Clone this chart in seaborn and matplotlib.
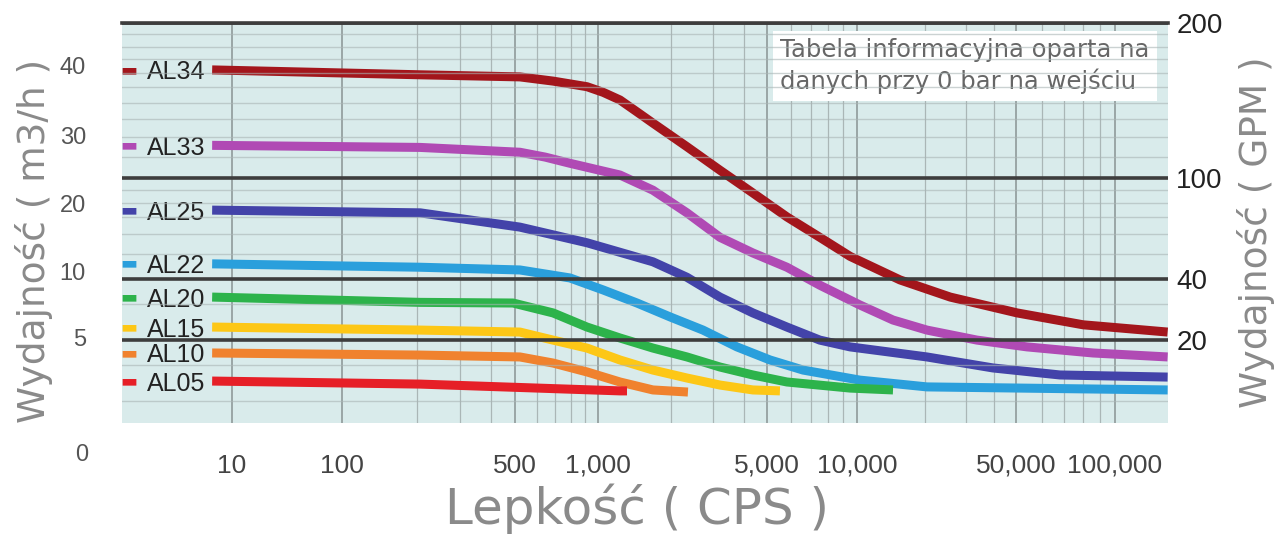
import numpy as np
import pandas as pd
import matplotlib
matplotlib.use('Agg')
import matplotlib.pyplot as plt
import seaborn as sns
from matplotlib.ticker import FixedLocator, FixedFormatter, NullFormatter

# ---------------- data ----------------
models = ['AL34', 'AL33', 'AL25', 'AL22', 'AL20', 'AL15', 'AL10', 'AL05']
colors = ['#a3161c', '#b04ab4', '#4343a9', '#2a9fdc', '#2db34b', '#fdc716', '#f0822e', '#e61f27']

al34_cps = [6.6, 207, 521, 687, 912, 1050, 1233, 1450, 1687, 2333, 3194, 4370, 5830, 7510, 9480, 15450, 25700, 50400, 80000, 158000]
al34_flow = [39.3, 38.6, 38.3, 37.7, 36.9, 36.1, 35.0, 33.3, 31.7, 28.3, 24.9, 21.6, 18.1, 15.1, 12.3, 9.4, 8.1, 6.9, 6.0, 5.45]
al33_cps = [6.6, 207, 521, 643, 791, 1233, 1687, 2333, 3194, 4370, 5830, 7510, 10300, 14400, 20300, 33700, 54000, 85700, 158000]
al33_flow = [28.5, 28.2, 27.5, 26.8, 25.9, 24.2, 22.0, 18.7, 15.1, 12.8, 10.7, 9.0, 7.5, 6.36, 5.6, 4.91, 4.62, 4.36, 4.19]
al25_cps = [6.6, 207, 521, 912, 1687, 2333, 3194, 4370, 5830, 7510, 9480, 20300, 39600, 68000, 158000]
al25_flow = [19.1, 18.7, 16.6, 14.3, 11.5, 9.6, 8.1, 6.9, 5.83, 4.91, 4.62, 4.19, 3.72, 3.42, 3.33]
al22_cps = [6.6, 207, 521, 791, 1050, 1450, 1985, 2718, 3755, 5120, 6600, 10300, 20300, 158000]
al22_flow = [11.2, 10.7, 10.3, 9.55, 8.64, 7.65, 6.6, 5.6, 4.62, 4.06, 3.63, 3.2, 2.91, 2.78]
al20_cps = [6.6, 207, 491, 687, 912, 1233, 1687, 2333, 3194, 4370, 5830, 9480, 14400]
al20_flow = [8.1, 7.7, 7.65, 6.9, 5.83, 5.0, 4.57, 4.19, 3.76, 3.42, 3.12, 2.86, 2.78]
al15_cps = [6.6, 207, 521, 687, 912, 1233, 1687, 2333, 3194, 4370, 5523]
al15_flow = [5.83, 5.6, 5.45, 4.91, 4.57, 4.06, 3.63, 3.29, 2.99, 2.78, 2.74]
al10_cps = [6.6, 207, 521, 687, 912, 1233, 1687, 2355]
al10_flow = [4.36, 4.27, 4.19, 3.93, 3.55, 3.12, 2.78, 2.69]
al05_cps = [6.6, 207, 1233, 1318]
al05_flow = [3.16, 3.03, 2.74, 2.74]

series_cps = [al34_cps, al33_cps, al25_cps, al22_cps, al20_cps, al15_cps, al10_cps, al05_cps]
series_flow = [al34_flow, al33_flow, al25_flow, al22_flow, al20_flow, al15_flow, al10_flow, al05_flow]

x_ticks = [10, 100, 500, 1000, 5000, 10000, 50000, 100000]
x_labels = ['10', '100', '500', '1,000', '5,000', '10,000', '50,000', '100,000']
y_ticks = [5, 10, 20, 30, 40]
y_labels = ['5', '10', '20', '30', '40']
gpm_ticks = [20, 40, 100, 200]
gpm_labels = ['20', '40', '100', '200']

# ---------------- scales (chart's own non-uniform axes) ----------------
LX = np.array([-3, 0, 1, 2, np.log10(500), 3, np.log10(5000), 4, np.log10(50000), 5, 5.2, 9])
PX = np.array([122 - 330, 122, 232, 342, 515, 598, 767, 857, 1016, 1115, 1168, 1168 + 3.8 * 265])

def xfwd(x):
    with np.errstate(divide='ignore', invalid='ignore'):
        lx = np.log10(np.clip(np.asarray(x, float), 1e-3, None))
    return np.interp(lx, LX, PX)

def xinv(p):
    return 10 ** np.interp(np.asarray(p, float), PX, LX)

VY = np.array([-100, 0, 5, 10, 20, 30, 40, 46, 200])
PY = np.array([455 + 100 * 23.4, 455, 338, 272, 204, 135, 65, 23, 23 - 154 * 7])

def yfwd(v):
    return -np.interp(np.asarray(v, float), VY, PY)

def yinv(q):
    return np.interp(np.asarray(q, float), -PY, VY)

LG = np.array([-2, np.log10(20), np.log10(40), 2, np.log10(200), 4])
PG = np.array([340 + (np.log10(20) + 2) * 203, 340, 279, 178, 23, 23 - 1.7 * 515])

def gfwd(g):
    with np.errstate(divide='ignore', invalid='ignore'):
        lg = np.log10(np.clip(np.asarray(g, float), 1e-3, None))
    return -np.interp(lg, LG, PG)

def ginv(q):
    return 10 ** np.interp(np.asarray(q, float), -PG, LG)

# ---------------- figure ----------------
plt.rcParams['font.family'] = ['Liberation Sans', 'DejaVu Sans']
W, H = 1277, 535
fig = plt.figure(figsize=(W / 100, H / 100), dpi=100)
ax = fig.add_axes([122 / W, (H - 423) / H, 1046 / W, 400 / H])
ax.set_facecolor('#d9ebeb')

rows = []
for m, xs, ys in zip(models, series_cps, series_flow):
    for x, y in zip(xs, ys):
        rows.append({'cps': x, 'flow': y, 'model': m})
df = pd.DataFrame(rows)

sns.lineplot(data=df, x='cps', y='flow', hue='model', hue_order=models,
             palette=dict(zip(models, colors)), estimator=None, sort=False,
             lw=6.5, legend=False, solid_capstyle='butt', solid_joinstyle='round', ax=ax)

ax.set_xscale('function', functions=(xfwd, xinv))
ax.set_yscale('function', functions=(yfwd, yinv))
ax.set_xlim(xinv(122), xinv(1168))
ax.set_ylim(yinv(-423), yinv(-23))

ax.xaxis.set_major_locator(FixedLocator(x_ticks))
ax.xaxis.set_major_formatter(FixedFormatter(x_labels))
minor_x = [k * 10 ** d for d in (2, 3, 4) for k in range(2, 10) if k * 10 ** d not in x_ticks]
ax.xaxis.set_minor_locator(FixedLocator(minor_x))
ax.xaxis.set_minor_formatter(NullFormatter())
ax.yaxis.set_major_locator(FixedLocator(y_ticks))
ax.yaxis.set_major_formatter(FixedFormatter(y_labels))
ax.yaxis.set_minor_locator(FixedLocator([]))

ax.grid(False)
ax.xaxis.grid(True, which='major', color='#8f9a9a', lw=1.2)
ax.xaxis.grid(True, which='minor', color='#aab6b6', lw=0.9)
ax.set_axisbelow(True)

ax.tick_params(axis='x', which='both', length=0, pad=22, labelsize=19, labelcolor='#444444')
ax.tick_params(axis='y', which='both', length=0, pad=26, labelsize=17, labelcolor='#555555')
for s in ax.spines.values():
    s.set_visible(False)

ax.set_xlabel('Lepkość ( CPS )', family='DejaVu Sans', fontsize=36, color='#8a8a8a')
ax.xaxis.set_label_coords(0.492, -0.15)
ax.set_ylabel('Wydajność ( m3/h )', family='DejaVu Sans', fontsize=27, color='#8a8a8a')
ax.yaxis.set_label_coords(-0.066, 0.455)

ax.text(-0.0325, -0.08, '0', transform=ax.transAxes, ha='right', va='center',
        fontsize=17, color='#555555')

# curve labels
for m, c, xs, ys in zip(models, colors, series_cps, series_flow):
    ax.annotate(m, xy=(xs[0], ys[0]), xytext=(-7, 0), textcoords='offset pixels',
                ha='right', va='center_baseline', fontsize=18, color='#222222')
    ax.annotate('▬', xy=(xs[0], ys[0]), xytext=(-83, 0), textcoords='offset pixels',
                ha='center', va='center', fontsize=13, color=c, family='DejaVu Sans')

ax.text(0.629, 0.962, 'Tabela informacyjna oparta na\ndanych przy 0 bar na wejściu',
        transform=ax.transAxes, ha='left', va='top', fontsize=17.5, color='#666666',
        family='DejaVu Sans', linespacing=1.3,
        bbox=dict(boxstyle='square,pad=0.3', fc='white', ec='none'))

# right GPM axis
ax2 = ax.twinx()
ax2.set_yscale('function', functions=(gfwd, ginv))
ax2.set_ylim(ginv(-423), ginv(-23))
ax2.yaxis.set_major_locator(FixedLocator(gpm_ticks))
ax2.yaxis.set_major_formatter(FixedFormatter(gpm_labels))
minor_g = [10, 15, 30, 50, 60, 70, 80, 90] + list(range(110, 200, 10))
ax2.yaxis.set_minor_locator(FixedLocator(minor_g))
ax2.yaxis.set_minor_formatter(NullFormatter())
ax2.yaxis.grid(True, which='minor', color='#a9b5b5', lw=1.0, alpha=0.6)
ax2.yaxis.grid(True, which='major', color='#3d3d3d', lw=2.6)
ax2.tick_params(axis='y', which='both', length=0, pad=6, labelsize=20, labelcolor='#222222')
for s in ax2.spines.values():
    s.set_visible(False)
ax2.spines['top'].set_visible(True)
ax2.spines['top'].set_color('#3d3d3d')
ax2.spines['top'].set_linewidth(2.6)
ax2.set_ylabel('Wydajność ( GPM )', family='DejaVu Sans', fontsize=27, color='#8a8a8a',
               rotation=90)
ax2.yaxis.set_label_coords(1.066, 0.478)

fig.savefig('out.png', dpi=100, facecolor='white')
